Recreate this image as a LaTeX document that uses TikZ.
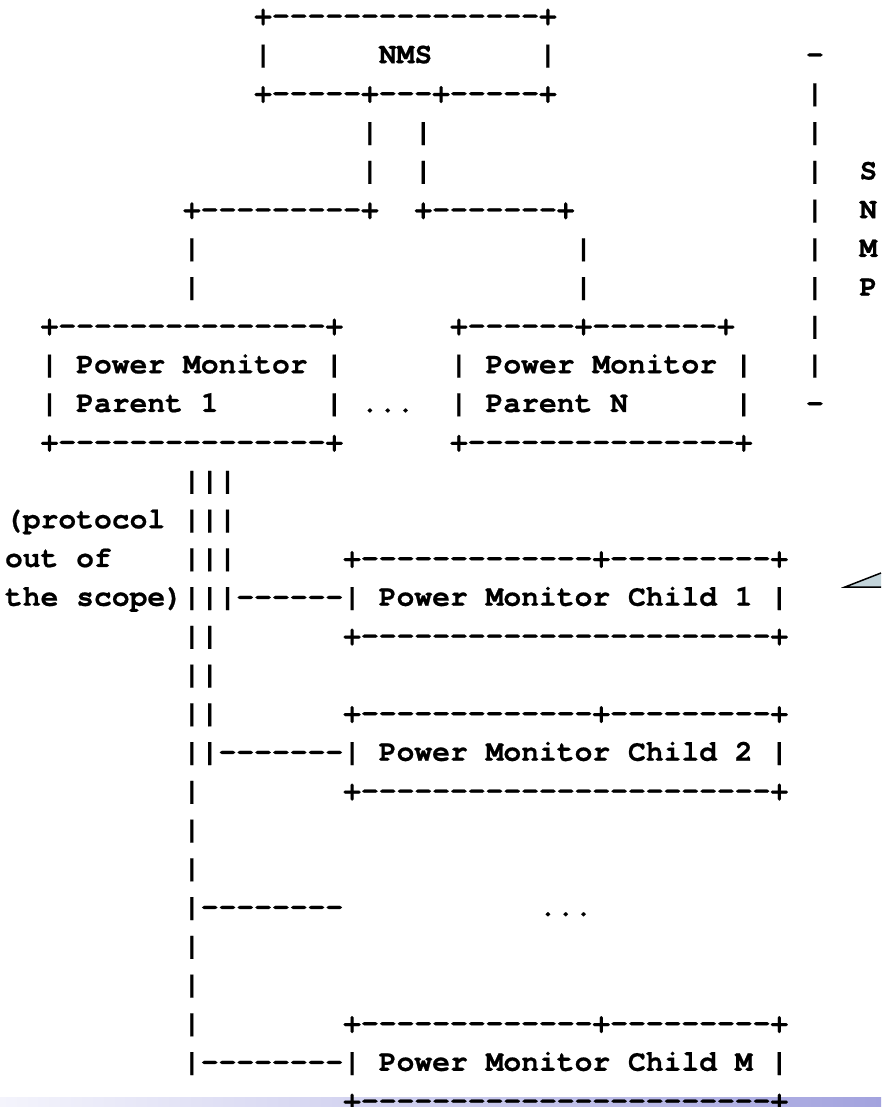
\documentclass[tikz,border=0pt]{standalone}
\usepackage{fontspec}
\setmonofont{TeX Gyre Cursor}[BoldFeatures={FakeBold=0.6}]
\definecolor{barleft}{HTML}{F4F4FC}
\definecolor{barright}{HTML}{A3A3DE}
\definecolor{tipfill}{HTML}{C3D4DA}
\tikzset{asc/.style={anchor=base west, inner sep=0pt, outer sep=0pt,
    font=\ttfamily\bfseries\fontsize{29.67pt}{38.75pt}\selectfont}}
% one run of the ascii art: name, column, row, text
\newcommand{\artrun}[4]{\node[asc] (#1) at ({#2+0.281},{#3-0.368}) {#4};}

\begin{document}
\begin{tikzpicture}[x=17.8pt, y=-38.75pt]
    \useasboundingbox (0pt,0pt) rectangle (881pt,-1107pt);
    \shade[left color=barleft, right color=barright] (0pt,-1097pt) rectangle (881pt,-1107pt);
    \filldraw[fill=tipfill, draw=black, line width=1.5pt] (881pt,-573pt) -- (845pt,-587pt) -- (881pt,-587pt);

    % NMS
    \artrun{nmsTop}{14}{1}{+---------------+}
    \artrun{nmsL}{14}{2}{|}
    \artrun{nms}{21}{2}{NMS}
    \artrun{nmsR}{30}{2}{|}
    \artrun{nmsBot}{14}{3}{+-----+---+-----+}
    \artrun{linkA4}{20}{4}{|}
    \artrun{linkB4}{23}{4}{|}
    \artrun{linkA5}{20}{5}{|}
    \artrun{linkB5}{23}{5}{|}
    \artrun{linkA6}{10}{6}{+---------+}
    \artrun{linkB6}{23}{6}{+-------+}
    \artrun{linkA7}{10}{7}{|}
    \artrun{linkB7}{32}{7}{|}
    \artrun{linkA8}{10}{8}{|}
    \artrun{linkB8}{32}{8}{|}

    % SNMP bracket
    \artrun{snmpTop}{45}{2}{-}
    \foreach \r in {3,...,10}{
        \artrun{snmp\r}{45}{\r}{|}
    }
    \artrun{snmpBot}{45}{11}{-}
    \artrun{snmpS}{48}{5}{S}
    \artrun{snmpN}{48}{6}{N}
    \artrun{snmpM}{48}{7}{M}
    \artrun{snmpP}{48}{8}{P}

    % parents
    \artrun{parOneTop}{2}{9}{+---------------+}
    \artrun{parOneL1}{2}{10}{|}
    \artrun{parOneTxt1}{4}{10}{Power Monitor}
    \artrun{parOneR1}{18}{10}{|}
    \artrun{parOneL2}{2}{11}{|}
    \artrun{parOneTxt2}{4}{11}{Parent 1}
    \artrun{parOneR2}{18}{11}{|}
    \artrun{parOneBot}{2}{12}{+---------------+}
    \artrun{parDots}{20}{11}{...}
    \artrun{parNTop}{25}{9}{+------+-------+}
    \artrun{parNL1}{25}{10}{|}
    \artrun{parNTxt1}{27}{10}{Power Monitor}
    \artrun{parNR1}{41}{10}{|}
    \artrun{parNL2}{25}{11}{|}
    \artrun{parNTxt2}{27}{11}{Parent N}
    \artrun{parNR2}{41}{11}{|}
    \artrun{parNBot}{25}{12}{+---------------+}

    % bus to the children
    \artrun{bus13}{10}{13}{|||}
    \artrun{proto1}{0}{14}{(protocol}
    \artrun{bus14}{10}{14}{|||}
    \artrun{proto2}{0}{15}{out of}
    \artrun{bus15}{10}{15}{|||}
    \artrun{proto3}{0}{16}{the scope)|||------|}
    \artrun{bus17}{10}{17}{||}
    \artrun{bus18}{10}{18}{||}
    \artrun{bus19}{10}{19}{||}
    \artrun{bus20}{10}{20}{||-------|}
    \artrun{bus21}{10}{21}{|}
    \artrun{bus22}{10}{22}{|}
    \artrun{bus23}{10}{23}{|}
    \artrun{bus24}{10}{24}{|--------}
    \artrun{bus25}{10}{25}{|}
    \artrun{bus26}{10}{26}{|}
    \artrun{bus27}{10}{27}{|}
    \artrun{bus28}{10}{28}{|--------|}

    % children
    \artrun{chOneTop}{19}{15}{+-------------+---------+}
    \artrun{chOne}{21}{16}{Power Monitor Child 1}
    \artrun{chOneR}{43}{16}{|}
    \artrun{chOneBot}{19}{17}{+-----------------------+}
    \artrun{chTwoTop}{19}{19}{+-------------+---------+}
    \artrun{chTwo}{21}{20}{Power Monitor Child 2}
    \artrun{chTwoR}{43}{20}{|}
    \artrun{chTwoBot}{19}{21}{+-----------------------+}
    \artrun{chDots}{30}{24}{...}
    \artrun{chMTop}{19}{27}{+-------------+---------+}
    \artrun{chM}{21}{28}{Power Monitor Child M}
    \artrun{chMR}{43}{28}{|}
    \artrun{chMBot}{19}{29}{+-----------------------+}
\end{tikzpicture}
\end{document}
